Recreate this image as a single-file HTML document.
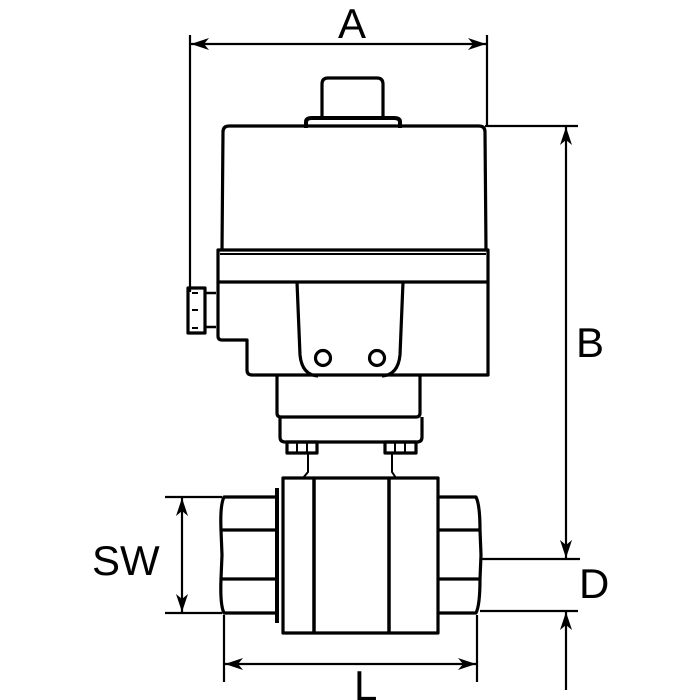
<!DOCTYPE html>
<html><head><style>
html,body{margin:0;padding:0;background:#fff;}
svg{display:block;}
text{font-family:"Liberation Sans",sans-serif;font-size:42px;fill:#000;}
</style></head><body>
<svg width="700" height="700" viewBox="0 0 700 700" xmlns="http://www.w3.org/2000/svg">
<defs>
<marker id="ar" viewBox="0 0 18 12" refX="18" refY="6" markerWidth="18" markerHeight="12" markerUnits="userSpaceOnUse" orient="auto-start-reverse">
<path d="M0,0 L18,6 L0,12 L5,6 Z" fill="#000"/>
</marker>
</defs>
<g fill="none" stroke="#000" stroke-width="3.2" stroke-linejoin="round">
<path d="M322,118 V84 Q322,78 328,78 H377 Q383,78 383,84 V118"/>
<path d="M306,128 V122 Q306,118 312,118 H394 Q400,118 400,122 V128" stroke-width="4"/>
<path d="M222,250 L223,132 Q223,126 229,126 H479 Q485,126 485,132 L486,250"/>
<path d="M218,250 H488 V282 H218 Z"/>
<path d="M220,254 H486" stroke-width="2"/>
<path d="M218,282 V336 Q218,340 222,340 H247 V370 Q247,375 252,375 H488 V282"/>
<path d="M297,282 L300,355 Q302,375 318,376 M403,282 L400,355 Q398,375 382,376"/>
<circle cx="323" cy="358" r="7.5"/>
<circle cx="377" cy="358" r="7.5"/>
<rect x="188" y="288" width="17" height="45"/>
<path d="M205,293 H216 M205,327 H216" stroke-width="2.5"/>
<path d="M192,293 h6 M192,310 h6 M192,328 h6" stroke-width="2"/>
<path d="M277,375 V413 Q277,417 281,417 H416 Q420,417 420,413 V375"/>
<path d="M280,417 V437 Q280,442 285,442 H417 Q422,442 422,437 V417"/>
<rect x="287" y="442" width="30" height="11"/>
<rect x="385" y="442" width="31" height="11"/>
<path d="M297,442 v11 M307,442 v11 M395,442 v11 M405,442 v11" stroke-width="2"/>
<path d="M308,453 V472 L303,478 M392,453 V472 L396,478" stroke-width="2"/>
<rect x="283" y="478" width="155" height="155"/>
<path d="M314,478 V633 M389,478 V633" stroke-width="3.5"/>
<path d="M277,488 V623" stroke-width="4"/>
<path d="M277,497 H224 Q220,505 221,530 L222,555 L221,579 Q220,605 224,613 H277"/>
<path d="M222,530 H276 M222,579 H276"/>
<path d="M438,497 H476 Q480,505 480,530 L481,555 L480,579 Q480,605 476,613 H438"/>
<path d="M438,530 H480 M438,579 H480"/>
</g>
<g fill="none" stroke="#000" stroke-width="2.2">
<path d="M190,35 V292 M487,35 V126"/>
<path d="M191,44 H486" marker-start="url(#ar)" marker-end="url(#ar)"/>
<path d="M485,126 H578"/>
<path d="M566,127 V558" marker-start="url(#ar)" marker-end="url(#ar)"/>
<path d="M482,559 H580 M480,611 H578"/>
<path d="M566,690 V612" marker-end="url(#ar)"/>
<path d="M165,497 H222 M165,613 H222"/>
<path d="M182,498 V612" marker-start="url(#ar)" marker-end="url(#ar)"/>
<path d="M224,615 V682 M477,615 V682"/>
<path d="M225,664 H476" marker-start="url(#ar)" marker-end="url(#ar)"/>
</g>
<text x="338" y="38">A</text>
<text x="576" y="357">B</text>
<text x="579" y="598">D</text>
<text x="92" y="575">SW</text>
<text x="354" y="700">L</text>
</svg>
</body></html>
